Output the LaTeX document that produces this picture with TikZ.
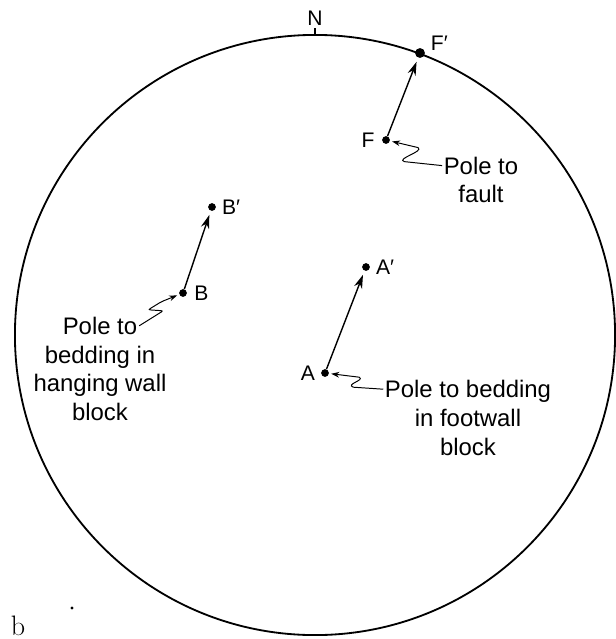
\documentclass[tikz,border=0pt]{standalone}
\usepackage{fontspec}
\newfontfamily\mana{Liberation Sans}
\usetikzlibrary{positioning,arrows.meta}
\tikzset{
  pol/.style       = {circle, fill, inner sep=0pt, minimum size=5.5pt},
  litera/.style    = {font=\mana\fontsize{15}{18}\selectfont, inner sep=1pt},
  nota/.style      = {font=\mana\fontsize{17}{20.5}\selectfont, align=center, inner sep=1pt},
  sageata/.style   = {-{Stealth[length=3.4mm,width=2.1mm]}, line width=1pt, shorten >=3pt},
  indicator/.style = {-{Stealth[length=2mm,width=1.4mm]}, line width=0.7pt, shorten >=1.5pt}
}

\begin{document}
\begin{tikzpicture}[x=0.025cm, y=-0.025cm]
        \useasboundingbox (0,0) rectangle (616,639);
        \draw[line width=1.3pt] (315,335) circle[radius=7.5cm];
        \coordinate (nord) at (315,35);
        \draw[line width=1pt] (nord) -- ++(0,-7) node[litera, above] (N) {N};

        \node[pol] (F) at (386,140) {};
        \node[pol, minimum size=7pt] (Fp) at (420,53) {};
        \node[pol] (B) at (183,293) {};
        \node[pol] (Bp) at (212,207) {};
        \node[pol] (A) at (325,373) {};
        \node[pol] (Ap) at (366,267) {};

        \node[litera, left=4pt of F] (lF) {F};
        \node[litera, above right=-2pt and 4pt of Fp] (lFp) {F′};
        \node[litera, right=4pt of B] (lB) {B};
        \node[litera, right=3pt of Bp] (lBp) {B′};
        \node[litera, left=3pt of A] (lA) {A};
        \node[litera, right=3pt of Ap] (lAp) {A′};

        \node[nota] (nf) at (481,180) {Pole to\\ fault};
        \node[nota] (nb) at (100,369) {Pole to\\ bedding in\\ hanging wall\\ block};
        \node[nota] (na) at (468,418) {Pole to bedding\\ in footwall\\ block};

        \draw[sageata] (F) -- (Fp);
        \draw[sageata] (B) -- (Bp);
        \draw[sageata] (A) -- (Ap);

        \draw[indicator] ([yshift=0.36cm]nf.west) -- ++(-38,-4)
            .. controls +(-8,-3) and +(6,4) .. ++(14,-14) -- (F);
        \draw[indicator, rounded corners=1.5pt] ([xshift=0.98cm,yshift=1.08cm]nb.center)
            -- ++(24,-15) -- ++(-15,-1) -- ++(13,-8) -- (B);
        \draw[indicator] ([yshift=0.72cm]na.west) -- ++(-30,-2)
            .. controls +(-8,-3) and +(6,3) .. ++(6,-10) -- (A);

        \node[font=\fontsize{20}{24}\selectfont] (fig) at (18,626) {b};
        \fill (72,608) circle[radius=1.2pt];
    \end{tikzpicture}
\end{document}
